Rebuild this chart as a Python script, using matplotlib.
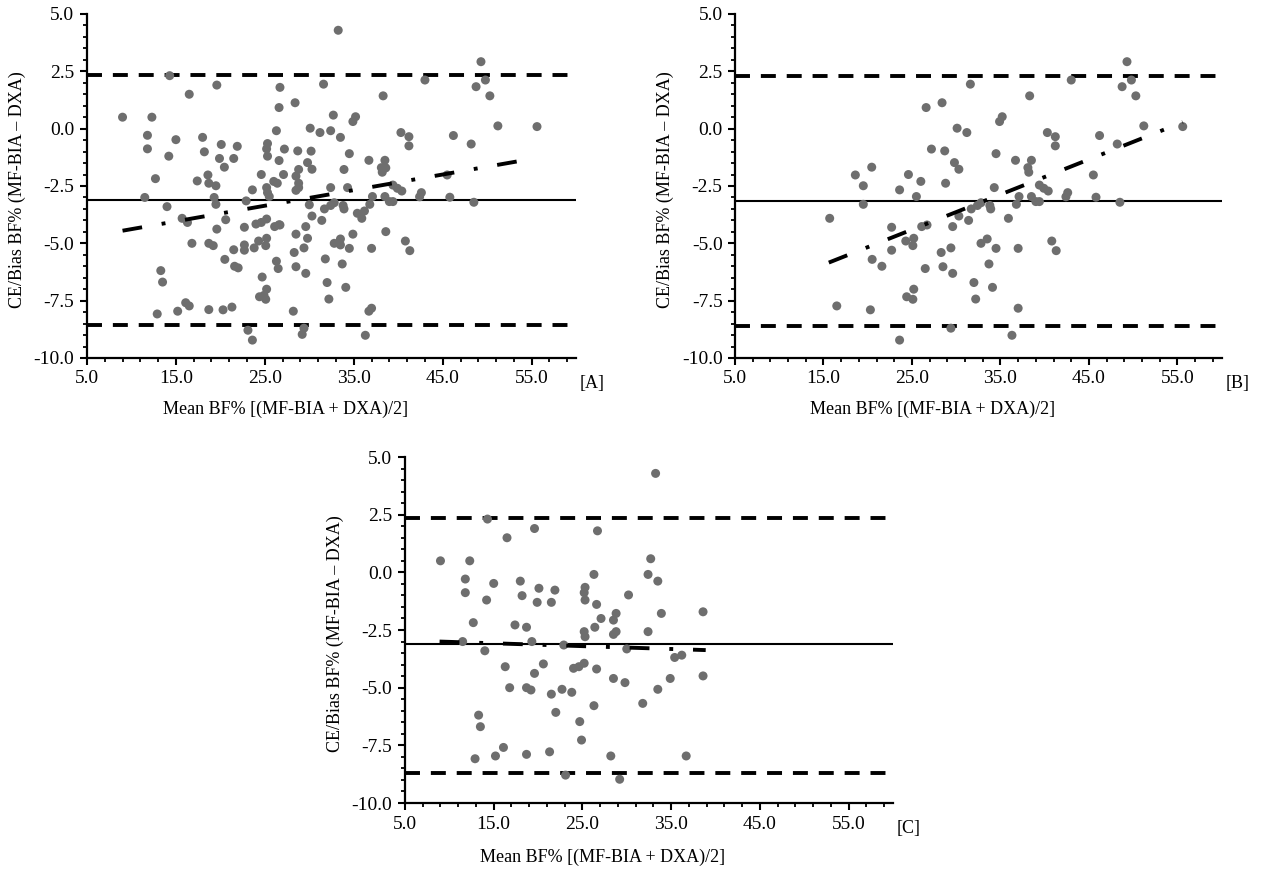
import numpy as np
import matplotlib
matplotlib.use('Agg')
import matplotlib.pyplot as plt
from matplotlib.ticker import FixedLocator, FormatStrFormatter

plt.rcParams['font.family'] = 'Liberation Serif'
plt.rcParams['axes.unicode_minus'] = False

# panel B points (higher BF%)
b_x = [18.6, 20.45, 19.5, 19.5, 15.7, 22.7, 22.7, 20.5, 21.6, 16.5, 20.3, 23.6,
       31.6, 38.3, 26.6, 28.4, 35.2, 34.9, 30.1, 31.2, 40.3, 41.2, 41.2, 27.2,
       28.7, 34.5, 29.8, 30.3, 36.7, 38.5, 38.1, 38.2, 24.6, 26.0, 28.8, 23.6,
       25.5, 34.3, 39.4, 39.9, 40.4, 37.1, 36.8, 38.5, 39.0, 39.4, 32.8, 32.4,
       31.7, 33.8, 33.9, 35.9, 31.4, 29.6, 30.3, 26.1, 26.7, 24.3, 25.2, 25.1,
       28.3, 29.4, 32.8, 33.5, 34.5, 37.0, 40.8, 41.3, 26.5, 28.5, 29.6, 33.7,
       32.0, 32.2, 34.1, 25.2, 24.4, 25.1, 37.0, 29.4, 36.3, 49.3, 43.0, 49.8,
       48.75, 50.3, 51.2, 55.6, 46.2, 48.2, 45.5, 42.6, 42.4, 45.8, 48.5]
b_y = [-2.02, -1.68, -2.49, -3.30, -3.91, -4.3, -5.3, -5.7, -6.0, -7.73, -7.9, -9.22,
       1.94, 1.43, 0.92, 1.13, 0.52, 0.31, 0.02, -0.17, -0.17, -0.35, -0.75, -0.89,
       -0.97, -1.09, -1.48, -1.77, -1.38, -1.38, -1.70, -1.90, -2.0, -2.30, -2.38, -2.67,
       -2.96, -2.57, -2.46, -2.6, -2.72, -2.96, -3.3, -2.96, -3.18, -3.18, -3.23, -3.35,
       -3.5, -3.35, -3.5, -3.91, -4.0, -4.27, -3.81, -4.27, -4.2, -4.9, -4.78, -5.1,
       -5.4, -5.2, -5.0, -4.81, -5.22, -5.22, -4.9, -5.32, -6.1, -6.02, -6.31, -5.9,
       -6.71, -7.43, -6.92, -7.0, -7.33, -7.44, -7.83, -8.7, -9.01, 2.92, 2.12, 2.12,
       1.83, 1.43, 0.12, 0.09, -0.3, -0.67, -2.02, -2.79, -2.97, -2.99, -3.21]

# panel C points (lower BF%)
c_x = [14.3, 19.6, 16.5, 9.0, 12.3, 11.8, 11.8, 15.0, 14.2, 18.0, 18.2, 20.1,
       19.9, 21.9, 21.5, 12.7, 17.4, 18.7, 11.5, 19.3, 14.0, 16.3, 20.6, 19.6,
       16.8, 18.7, 19.2, 21.5, 22.0, 13.3, 13.5, 16.1, 15.2, 12.9, 18.7, 21.3,
       22.9, 22.7, 23.1, 33.25, 26.7, 32.7, 26.3, 32.4, 33.5, 25.3, 25.2, 25.3,
       30.2, 26.6, 27.1, 26.4, 28.8, 28.5, 33.9, 38.6, 25.2, 25.3, 28.8, 28.5,
       32.4, 30.0, 35.4, 36.2, 24.0, 24.6, 25.2, 26.6, 28.5, 29.8, 34.9, 38.6,
       23.8, 33.5, 26.3, 31.8, 24.7, 24.9, 28.2, 36.7, 29.2]
c_y = [2.31, 1.9, 1.5, 0.5, 0.5, -0.29, -0.88, -0.48, -1.2, -0.38, -1.01, -0.69,
       -1.3, -0.77, -1.3, -2.18, -2.28, -2.38, -3.0, -3.0, -3.4, -4.09, -3.97, -4.38,
       -5.0, -5.0, -5.1, -5.28, -6.07, -6.19, -6.69, -7.59, -7.96, -8.08, -7.89, -7.78,
       -3.15, -5.07, -8.79, 4.29, 1.8, 0.59, -0.09, -0.09, -0.38, -0.65, -0.88, -1.2,
       -0.98, -1.39, -2.0, -2.38, -1.78, -2.07, -1.78, -1.71, -2.57, -2.79, -2.57, -2.69,
       -2.57, -3.32, -3.69, -3.59, -4.16, -4.09, -3.94, -4.19, -4.6, -4.78, -4.6, -4.49,
       -5.2, -5.07, -5.78, -5.68, -6.47, -7.27, -7.96, -7.96, -8.97]

# panel A = all subjects
a_x = b_x + c_x
a_y = b_y + c_y

# upper LoA, bias, lower LoA
limits = {'A': (2.34, -3.12, -8.56), 'B': (2.29, -3.17, -8.59), 'C': (2.37, -3.12, -8.69)}
# regression line ends
reg_a = ([9.0, 53.8], [-4.45, -1.40])
reg_b = ([15.6, 55.6], [-5.84, 0.28])
reg_c = ([8.9, 38.9], [-3.00, -3.37])

xlab = 'Mean BF% [(MF-BIA + DXA)/2]'
ylab = 'CE/Bias BF% (MF-BIA \u2013 DXA)'
fs = 13


def panel(ax, x, y, lim, reg, tag, xlab_y):
    up, mean, low = lim
    ax.axhline(up, color='black', lw=2.8, linestyle=(0, (3.85, 2.8)), zorder=2)
    ax.axhline(low, color='black', lw=2.8, linestyle=(0, (3.85, 2.8)), zorder=2)
    ax.axhline(mean, color='black', lw=1.5, zorder=2)
    ax.scatter(x, y, s=42, color='#6e6e6e', edgecolors='none', zorder=3)
    ax.plot(reg[0], reg[1], color='black', lw=2.8,
            linestyle=(0, (5.1, 5.1, 1.0, 5.1)), zorder=4)
    ax.set_xlim(5, 60)
    ax.set_ylim(-10, 5)
    ax.xaxis.set_major_locator(FixedLocator([5, 15, 25, 35, 45, 55]))
    ax.xaxis.set_minor_locator(FixedLocator(np.arange(5, 61, 2)))
    ax.yaxis.set_major_locator(FixedLocator(np.arange(-10, 5.1, 2.5)))
    ax.yaxis.set_minor_locator(FixedLocator(np.arange(-10, 5.1, 0.5)))
    ax.xaxis.set_major_formatter(FormatStrFormatter('%.1f'))
    ax.yaxis.set_major_formatter(FormatStrFormatter('%.1f'))
    for s in ['top', 'right']:
        ax.spines[s].set_visible(False)
    for s in ['left', 'bottom']:
        ax.spines[s].set_linewidth(1.6)
    ax.tick_params(which='major', direction='out', length=5, width=1.5, labelsize=14, pad=4)
    ax.tick_params(which='minor', direction='out', length=3, width=1.3)
    ax.set_xlabel(xlab, fontsize=fs)
    ax.set_ylabel(ylab, fontsize=fs)
    ax.xaxis.set_label_coords(0.405, xlab_y)
    ax.yaxis.set_label_coords(-0.125, 0.49)
    ax.text(1.033, -0.073, '[' + tag + ']', transform=ax.transAxes,
            ha='center', va='center', fontsize=fs)


fig = plt.figure(figsize=(12.64, 8.74), dpi=100)
ax_a = fig.add_axes([0.0688, 0.5904, 0.387, 0.3936])
ax_b = fig.add_axes([0.5815, 0.5904, 0.385, 0.3936])
ax_c = fig.add_axes([0.3204, 0.0812, 0.386, 0.3959])

panel(ax_a, a_x, a_y, limits['A'], reg_a, 'A', -0.125)
panel(ax_b, b_x, b_y, limits['B'], reg_b, 'B', -0.125)
panel(ax_c, c_x, c_y, limits['C'], reg_c, 'C', -0.133)

plt.savefig('out.png', dpi=100)
